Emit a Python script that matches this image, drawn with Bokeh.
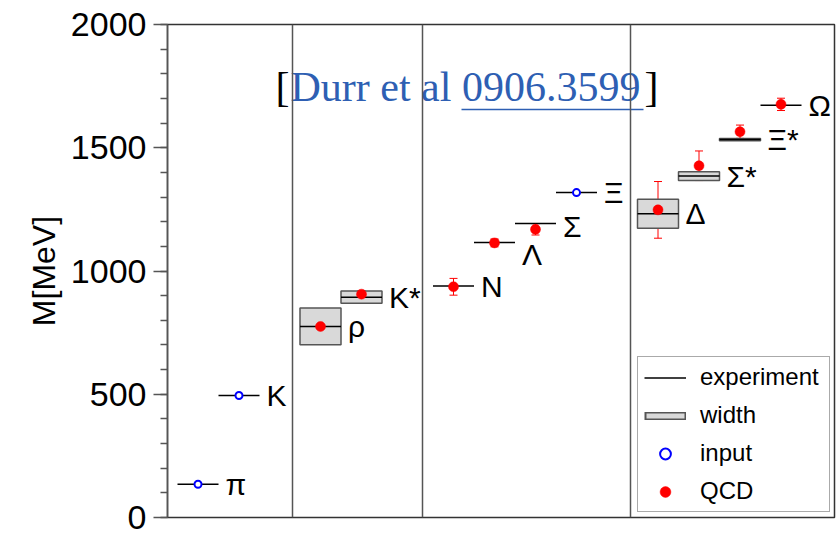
from bokeh.plotting import figure
from bokeh.models import (Range1d, FixedTicker, Span, Label, Legend, LegendItem,
                          ColumnDataSource, Whisker, TeeHead)
from bokeh.core.properties import value
from bokeh.embed import file_html
from bokeh.resources import INLINE

# ---------------- data ----------------
hadrons = ["π", "K", "ρ", "K*", "N", "Λ", "Σ", "Ξ", "Δ", "Σ*", "Ξ*", "Ω"]
hadron_group = [0, 0, 1, 1, 2, 2, 2, 2, 3, 3, 3, 3]
experiment = [135, 495, 775, 894, 939, 1116, 1193, 1318, 1232, 1385, 1533, 1672]

width_names = ["ρ", "K*", "Δ", "Σ*", "Ξ*"]
width_values = [149, 50, 118, 36, 9]

input_names = ["π", "K", "Ξ"]

qcd_names = ["ρ", "K*", "N", "Λ", "Σ", "Δ", "Σ*", "Ξ*", "Ω"]
qcd_mass = [775, 906, 936, 1114, 1169, 1248, 1427, 1565, 1676]
qcd_error = [30, 14, 34, 16, 23, 115, 60, 27, 25]

y_ticks = [0, 500, 1000, 1500, 2000]
y_minor = list(range(0, 2001, 100))

# ---------------- layout constants (screen-like x units) ----------------
X_MAX = 667
Y_MIN, Y_MAX = 0, 2000
PX_PER_MEV = 493 / 2000.0
group_start = [30.5, 153, 286, 490.5]
slot = 41
half = 20.5
separators = [125, 255, 463]
label_gap = 7
label_dy_px = {"Λ": 12, "Σ": 3}

xpos = []
counter = {}
for g in hadron_group:
    k = counter.get(g, 0)
    xpos.append(group_start[g] + k * slot)
    counter[g] = k + 1
xmap = dict(zip(hadrons, xpos))
emap = dict(zip(hadrons, experiment))

p = figure(width=836, height=532, x_range=Range1d(0, X_MAX), y_range=Range1d(Y_MIN, Y_MAX),
           x_axis_location=None, output_backend="svg", toolbar_location=None, title=None,
           min_border_left=167, min_border_right=2, min_border_top=24, min_border_bottom=15)
p.grid.visible = False
p.outline_line_color = "#333333"
p.outline_line_width = 1.5
p.background_fill_color = "white"
p.border_fill_color = "white"

ax = p.yaxis[0]
ax.ticker = FixedTicker(ticks=y_ticks, minor_ticks=y_minor)
ax.major_tick_out = 14
ax.major_tick_in = 0
ax.minor_tick_out = 7
ax.minor_tick_in = 0
ax.major_label_standoff = 7
ax.major_label_text_font = "Liberation Sans"
ax.major_label_text_font_size = "34px"
ax.major_label_text_color = "black"
ax.axis_label = "M[MeV]"
ax.axis_label_text_font = "Liberation Sans"
ax.axis_label_text_font_size = "32px"
ax.axis_label_text_font_style = "normal"
ax.axis_label_text_color = "black"
ax.axis_label_standoff = 6
ax.axis_line_color = "#555555"
ax.axis_line_width = 1.5
ax.major_tick_line_color = "#555555"
ax.major_tick_line_width = 1.5
ax.minor_tick_line_color = "#555555"
ax.minor_tick_line_width = 1.5

# width boxes
wsrc = ColumnDataSource(dict(
    left=[xmap[n] - half for n in width_names],
    right=[xmap[n] + half for n in width_names],
    bottom=[emap[n] - w / 2 for n, w in zip(width_names, width_values)],
    top=[emap[n] + w / 2 for n, w in zip(width_names, width_values)],
))
p.quad(left="left", right="right", bottom="bottom", top="top", source=wsrc,
       fill_color="#d9d9d9", line_color="#555555", line_width=1.5)

# experiment lines
esrc = ColumnDataSource(dict(x0=[x - half for x in xpos], x1=[x + half for x in xpos], y=experiment))
exp_r = p.segment(x0="x0", y0="y", x1="x1", y1="y", source=esrc, line_color="black", line_width=1.5)

# input points
isrc = ColumnDataSource(dict(x=[xmap[n] for n in input_names], y=[emap[n] for n in input_names]))
inp_r = p.scatter(x="x", y="y", source=isrc, marker="circle", size=7, fill_color="white",
                  line_color="#0000ff", line_width=2)

# QCD points with error bars
qsrc = ColumnDataSource(dict(
    x=[xmap[n] for n in qcd_names], y=qcd_mass,
    lo=[m - e for m, e in zip(qcd_mass, qcd_error)],
    hi=[m + e for m, e in zip(qcd_mass, qcd_error)],
))
p.add_layout(Whisker(source=qsrc, base="x", lower="lo", upper="hi", dimension="height",
                     line_color="red", line_width=1,
                     upper_head=TeeHead(size=8, line_color="red", line_width=1),
                     lower_head=TeeHead(size=8, line_color="red", line_width=1)))
qcd_r = p.scatter(x="x", y="y", source=qsrc, marker="circle", size=10,
                  fill_color="red", line_color="red", line_width=0.5)

# hadron labels
lsrc = ColumnDataSource(dict(
    x=[x + half + label_gap for x in xpos],
    y=[e - label_dy_px.get(n, 0) / PX_PER_MEV for n, e in zip(hadrons, experiment)],
    text=hadrons,
))
p.text(x="x", y="y", text="text", source=lsrc, text_font=value("Liberation Sans"),
       text_font_size="30px", text_baseline="middle", text_align="left", text_color="black")

# citation
cite_y = 1745
serif = "Liberation Serif"
blue = "#2E5FB3"
p.add_layout(Label(x=108, y=cite_y, text="[", text_font=serif, text_font_size="42px",
                   text_color="black", text_baseline="alphabetic", text_align="left"))
p.add_layout(Label(x=123, y=cite_y, text="Durr et al 0906.3599", text_font=serif,
                   text_font_size="42px", text_color=blue, text_baseline="alphabetic",
                   text_align="left"))
p.add_layout(Label(x=491, y=cite_y, text="]", text_font=serif, text_font_size="42px",
                   text_color="black", text_baseline="alphabetic", text_align="right"))
p.segment(x0=[294], y0=[1655], x1=[476], y1=[1655], line_color=blue, line_width=1.5)

# separators
for s in separators:
    p.add_layout(Span(location=s, dimension="height", line_color="#555555", line_width=1.5))

# legend-only representation of the width box (kept outside the visible ranges)
w_dark = p.line(x=[-50, -40], y=[-100, -100], line_color="#555555", line_width=8)
w_light = p.line(x=[-50, -40], y=[-100, -100], line_color="#d9d9d9", line_width=5,
                 line_dash="0 2 38 20")

leg = Legend(items=[
    LegendItem(label="experiment", renderers=[exp_r]),
    LegendItem(label="width", renderers=[w_dark, w_light]),
    LegendItem(label="input", renderers=[inp_r]),
    LegendItem(label="QCD", renderers=[qcd_r]),
], location=(470, 5), orientation="vertical")
leg.glyph_width = 42
leg.glyph_height = 27
leg.label_height = 27
leg.label_width = 123
leg.label_standoff = 14
leg.spacing = 10
leg.padding = 6
leg.margin = 0
leg.label_text_font = "Liberation Sans"
leg.label_text_font_size = "24px"
leg.label_text_color = "black"
leg.border_line_color = "#555555"
leg.border_line_width = 1.5
leg.background_fill_color = "white"
leg.background_fill_alpha = 1
p.add_layout(leg)

open("out.html", "w").write(file_html(p, INLINE))
